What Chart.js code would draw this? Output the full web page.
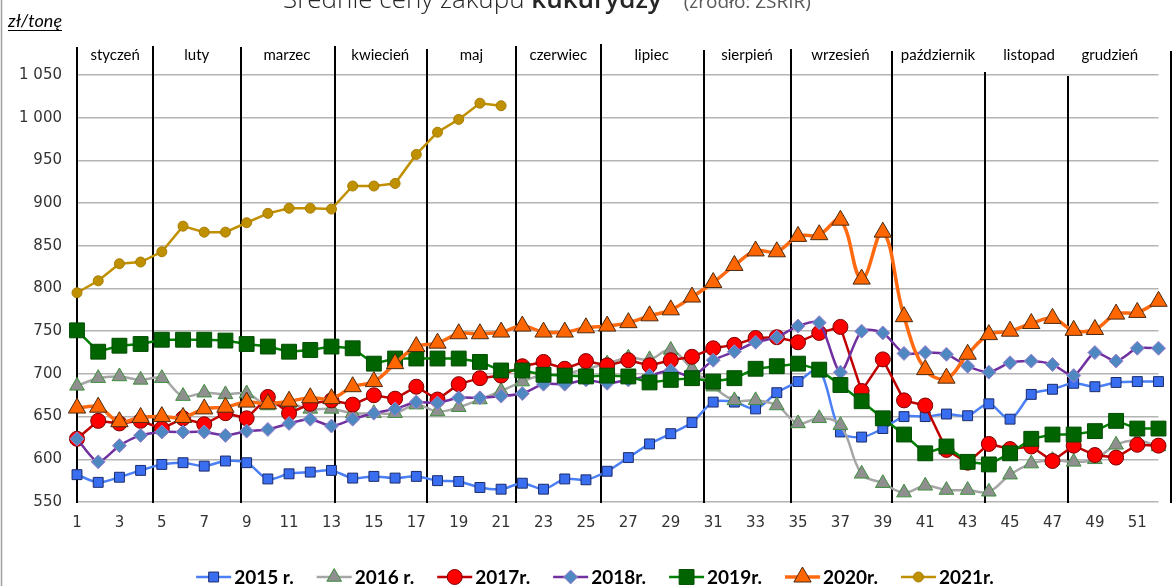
<!DOCTYPE html>
<html>
<head>
<meta charset="utf-8">
<script src="https://cdn.jsdelivr.net/npm/chart.js@4.4.1/dist/chart.umd.min.js"></script>
<style>
html,body{margin:0;padding:0;background:#fff;}
#wrap{position:relative;width:1172px;height:586px;overflow:hidden;}
canvas{display:block;}
</style>
</head>
<body>
<div id="wrap"><canvas id="c" width="1172" height="586"></canvas></div>
<script>
// ---- categories (weeks) ----
const weeks = ['1','2','3','4','5','6','7','8','9','10','11','12','13','14','15','16','17','18','19','20','21','22','23','24','25','26','27','28','29','30','31','32','33','34','35','36','37','38','39','40','41','42','43','44','45','46','47','48','49','50','51','52'];
const shownWeekTicks = ['1','3','5','7','9','11','13','15','17','19','21','23','25','27','29','31','33','35','37','39','41','43','45','47','49','51'];

// ---- y axis ----
const yMin = 550, yMax = 1050, yStep = 50;

// ---- series names ----
const seriesNames = ['2015 r.','2016 r.','2017r.','2018r.','2019r.','2020r.','2021r.'];

// ---- series values (zł/tonę) ----
const y2015 = [582,573,579,587,594,596,592,598,596,577,583,585,587,578,580,578,580,575,574,567,565,572,565,577,576,586,602,618,630,643,667,667,659,678,691,705,632,626,636,650,650,653,651,665,647,676,682,689,685,690,691,691];
const y2016 = [686,695,697,693,695,674,678,676,677,663,665,659,659,654,654,654,664,656,661,670,680,691,699,700,706,712,719,717,728,706,685,669,669,663,642,648,640,583,572,561,569,564,564,562,582,595,599,597,600,617,622,615];
const y2017 = [624,645,642,645,636,648,641,654,648,673,654,665,669,664,675,671,685,670,688,695,698,709,714,706,715,710,716,710,716,720,730,734,742,743,737,748,755,680,717,669,663,611,596,618,612,615,598,616,605,602,617,616];
const y2018 = [624,597,616,628,632,632,632,628,633,635,642,647,639,647,654,659,667,666,672,672,674,677,688,688,693,689,693,698,704,697,716,726,737,743,756,760,702,750,748,724,725,723,709,702,713,715,711,698,725,715,730,730];
const y2019 = [751,726,733,735,740,740,740,739,735,732,726,728,732,730,712,718,718,718,718,714,704,704,699,698,697,698,697,690,693,695,691,695,706,709,712,705,687,668,648,629,607,615,597,594,607,624,629,629,633,645,636,636];
const y2020 = [660,661,644,649,650,649,659,661,667,665,668,672,671,685,691,712,732,736,747,747,749,756,749,749,754,756,760,768,775,790,807,827,844,843,861,863,880,811,866,767,705,695,723,746,750,759,765,751,752,770,772,785];
const y2021 = [795,809,829,831,843,873,866,866,877,888,894,894,893,920,920,923,957,983,998,1017,1014];
const seriesValues = [y2015,y2016,y2017,y2018,y2019,y2020,y2021];

// ---- months (annotation) ----
const monthNames = ['styczeń','luty','marzec','kwiecień','maj','czerwiec','lipiec','sierpień','wrzesień','październik','listopad','grudzień'];
const monthBoundaryWeeks = [1.0,4.58,8.72,13.15,17.5,21.72,25.73,30.55,34.65,39.45,43.8,47.75,52.6];
const monthLabelWeeks = [2.8,6.65,10.9,15.3,19.6,23.7,28.1,32.6,37.0,41.6,45.9,49.7];

// ---- texts ----
const titleMain = 'Średnie ceny zakupu ';
const titleBold = 'kukurydzy';
const titleSource = '(źródło: ZSRIR)';
const unitLabel = 'zł/tonę';

// ---- styles ----
const seriesStyles = [
  {line:'#4a7ff5', fill:'#3a6ef0', edge:'#1b2b6b', shape:'rect',     r:7,    w:2.5, t:0.3},
  {line:'#a6a6a6', fill:'#8f8f8f', edge:'#3f8f3f', shape:'triangle', r:8.5,  w:2.5, t:0.4},
  {line:'#c00000', fill:'#ff0000', edge:'#7a0000', shape:'circle',   r:7.5,  w:2.5, t:0},
  {line:'#7030a0', fill:'#4f88c0', edge:'#a080d0', shape:'rectRot',  r:7,    w:2.5, t:0.25},
  {line:'#008000', fill:'#006400', edge:'#004d00', shape:'rect',     r:10.5, w:2.5, t:0},
  {line:'#ff6a10', fill:'#ff6600', edge:'#4a2a10', shape:'triangle', r:10,   w:3.5, t:0.4},
  {line:'#c09000', fill:'#bf9000', edge:'#a67c00', shape:'circle',   r:5,    w:2.5, t:0}
];
const dividerTops = [47,46,47,46,49,46,44,50,49,51,72,76,51];

function fmtThousands(v){ return String(v).replace(/\B(?=(\d{3})+(?!\d))/g,' '); }

function drawMarker(ctx, shape, x, y, r){
  ctx.beginPath();
  if (shape === 'circle') { ctx.arc(x, y, r, 0, Math.PI*2); }
  else if (shape === 'rect') { const s = r*Math.SQRT1_2; ctx.rect(x-s, y-s, 2*s, 2*s); }
  else if (shape === 'rectRot') { ctx.moveTo(x, y-r); ctx.lineTo(x+r, y); ctx.lineTo(x, y+r); ctx.lineTo(x-r, y); ctx.closePath(); }
  else if (shape === 'triangle') {
    const half = r*0.866;
    ctx.moveTo(x, y-r); ctx.lineTo(x+half, y+r*0.5); ctx.lineTo(x-half, y+r*0.5); ctx.closePath();
  }
  ctx.fill(); ctx.stroke();
}

const decor = {
  id:'decor',
  beforeDatasetsDraw(chart){
    const {ctx, scales:{x}, chartArea} = chart;
    ctx.save();
    ctx.strokeStyle = '#000'; ctx.lineWidth = 2;
    monthBoundaryWeeks.forEach((w,i)=>{
      const px = Math.round(x.getPixelForValue(w-1));
      ctx.beginPath(); ctx.moveTo(px, dividerTops[i]); ctx.lineTo(px, chartArea.bottom+1); ctx.stroke();
    });
    ctx.restore();
  },
  afterDraw(chart){
    const {ctx, scales:{x}} = chart;
    ctx.save();
    // left frame line
    ctx.strokeStyle = '#a0a0a0'; ctx.lineWidth = 1.5;
    ctx.beginPath(); ctx.moveTo(1.5,0); ctx.lineTo(1.5,586); ctx.stroke();
    // month labels
    ctx.fillStyle = '#000'; ctx.font = '15px Lato'; ctx.textAlign = 'center'; ctx.textBaseline = 'middle';
    monthNames.forEach((m,i)=>{
      ctx.fillText(m, x.getPixelForValue(monthLabelWeeks[i]-1), 55);
    });
    // title
    ctx.textAlign = 'left'; ctx.textBaseline = 'alphabetic';
    let tx = 283; const ty = 8;
    ctx.fillStyle = '#262626'; ctx.font = '300 26px "Open Sans"';
    ctx.fillText(titleMain, tx, ty); tx += ctx.measureText(titleMain).width;
    ctx.font = '600 26px "Open Sans"';
    ctx.fillText(titleBold, tx, ty); tx += ctx.measureText(titleBold).width + 22;
    ctx.fillStyle = '#595959'; ctx.font = '19px "Open Sans"';
    ctx.fillText(titleSource, tx, ty);
    // unit label
    ctx.fillStyle = '#000'; ctx.font = 'italic 18px Lato';
    ctx.fillText(unitLabel, 8, 27);
    const uw = ctx.measureText(unitLabel).width;
    ctx.lineWidth = 1; ctx.strokeStyle = '#000';
    ctx.beginPath(); ctx.moveTo(8, 30.5); ctx.lineTo(8+uw, 30.5); ctx.stroke();
    // legend
    ctx.font = 'bold 19px Lato'; ctx.textBaseline = 'middle';
    const widths = seriesNames.map(n=>ctx.measureText(n).width);
    const lineLen = 35, gapTxt = 3, gapItem = 23;
    const total = widths.reduce((a,b)=>a+b,0) + seriesNames.length*(lineLen+gapTxt) + (seriesNames.length-1)*gapItem;
    let lx = 595 - total/2; const ly = 577;
    seriesNames.forEach((n,i)=>{
      const s = seriesStyles[i];
      ctx.strokeStyle = s.line; ctx.lineWidth = s.w;
      ctx.beginPath(); ctx.moveTo(lx, ly); ctx.lineTo(lx+lineLen, ly); ctx.stroke();
      ctx.fillStyle = s.fill; ctx.strokeStyle = s.edge; ctx.lineWidth = 1;
      drawMarker(ctx, s.shape, lx+lineLen/2, ly, s.r);
      ctx.fillStyle = '#000';
      ctx.fillText(n, lx+lineLen+gapTxt, ly+1);
      lx += lineLen + gapTxt + widths[i] + gapItem;
    });
    ctx.restore();
  }
};

const datasets = seriesNames.map((n,i)=>{
  const s = seriesStyles[i];
  return {
    label: n,
    data: seriesValues[i],
    borderColor: s.line,
    borderWidth: s.w,
    backgroundColor: s.fill,
    pointBackgroundColor: s.fill,
    pointBorderColor: s.edge,
    pointBorderWidth: 1,
    pointStyle: s.shape,
    pointRadius: s.r,
    pointHoverRadius: s.r,
    tension: s.t,
    fill: false,
    clip: false,
    order: seriesNames.length - i
  };
});

new Chart(document.getElementById('c'), {
  type:'line',
  data:{ labels: weeks, datasets },
  options:{
    responsive:false,
    animation:false,
    devicePixelRatio:1,
    layout:{ padding:{ left:0, right:13.5, top:75, bottom:0 } },
    plugins:{ legend:{display:false}, tooltip:{enabled:false}, title:{display:false} },
    scales:{
      x:{
        type:'category', offset:false,
        grid:{ display:false, drawTicks:false },
        border:{ display:false },
        ticks:{ autoSkip:false, maxRotation:0, minRotation:0, padding:12, color:'#333',
          font:{ family:'"DejaVu Sans"', size:15 },
          callback:(v,i)=> shownWeekTicks.includes(weeks[i]) ? weeks[i] : '' },
        afterFit:(s)=>{ s.height = 84; }
      },
      y:{
        min:yMin, max:yMax,
        grid:{ color:'#b4b4b4', lineWidth:1.5, drawTicks:false },
        border:{ display:false },
        ticks:{ stepSize:yStep, padding:15, color:'#333',
          font:{ family:'"DejaVu Sans"', size:15 },
          callback:(v)=> fmtThousands(v) },
        afterFit:(s)=>{ s.width = 77; }
      }
    }
  },
  plugins:[decor]
});
</script>
</body>
</html>
